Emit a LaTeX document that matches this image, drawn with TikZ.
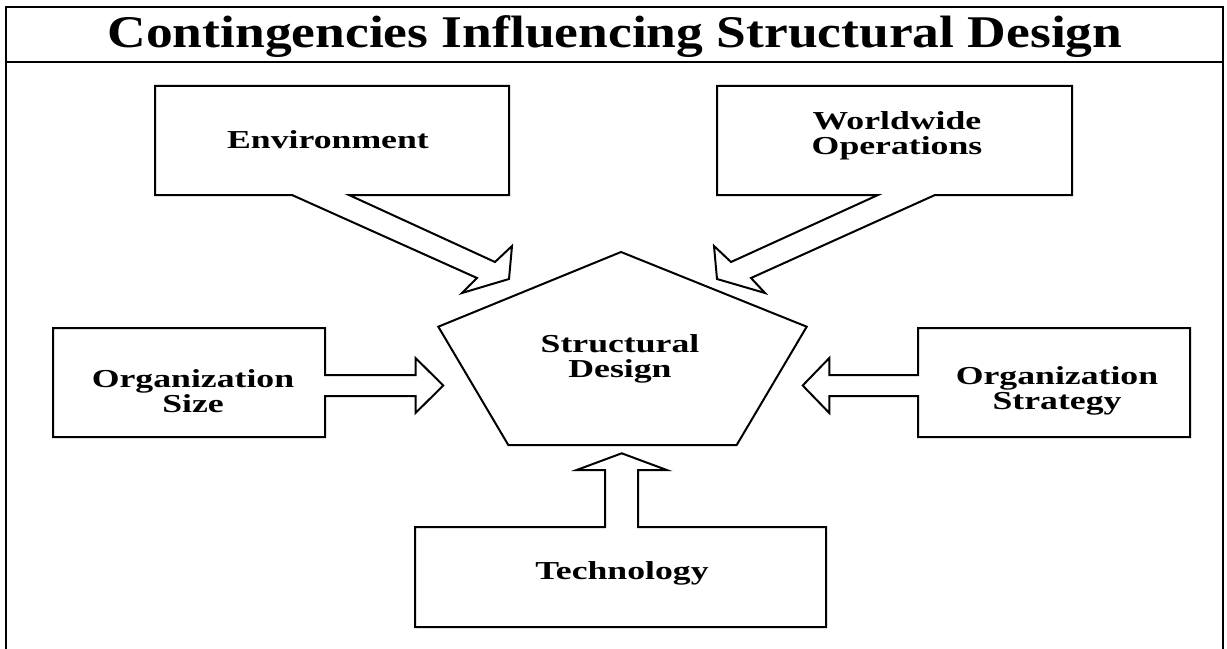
\documentclass[tikz,border=0pt]{standalone}
\usepackage{fontspec}
\newfontfamily\titlefam[FakeStretch=1.18]{Liberation Serif}
\newfontfamily\labfam[FakeStretch=1.38]{Liberation Serif}
\newcommand{\titlefont}{\titlefam\bfseries\fontsize{34}{38}\selectfont}
\newcommand{\labfont}{\labfam\bfseries\fontsize{19.4}{18.75}\selectfont}
\begin{document}
\begin{tikzpicture}[x=0.75pt,y=-0.75pt,
  outl/.style={line width=1.5pt, line join=miter, fill=white},
  frm/.style={line width=1.9pt},
  lab/.style={font=\labfont, align=center, inner sep=0pt}]
\useasboundingbox (0,0) rectangle (1227,649);
\fill[white] (0,0) rectangle (1227,649);
% frame
\draw[frm] (6,649) -- (6,7) -- (1223,7) -- (1223,649);
\draw[frm] (6,62) -- (1223,62);
\node[font=\titlefont, inner sep=0pt, anchor=base] (title) at (615,48) {Contingencies Influencing Structural Design};
% pentagon
\coordinate (pA) at (621,252);
\coordinate (pR) at (806.7,326.7);
\coordinate (pBR) at (736.7,445);
\coordinate (pBL) at (508.3,445);
\coordinate (pL) at (438.3,326.7);
\draw[outl] (pA) -- (pR) -- (pBR) -- (pBL) -- (pL) -- cycle;
\node[lab] (sd) at (620,359) {Structural\\Design};
% environment
\draw[outl] (292,195) -- (155,195) -- (155,86) -- (509,86) -- (509,195) -- (349,195)
  -- (495,262) -- (512,246) -- (509,279) -- (462,293) -- (477,278) -- cycle;
\node[lab] (env) at (328,140) {Environment};
% worldwide operations
\draw[outl] (935,195) -- (1072,195) -- (1072,86) -- (717,86) -- (717,195) -- (878,195)
  -- (731,262) -- (714,246) -- (717,279) -- (765,293) -- (751,278) -- cycle;
\node[lab] (ww) at (897,136) {Worldwide\\Operations};
% organization size
\draw[outl] (325,375) -- (325,328) -- (53,328) -- (53,437) -- (325,437) -- (325,396)
  -- (415.5,396) -- (415.5,413) -- (443.3,385.5) -- (415.5,358) -- (415.5,375) -- cycle;
\node[lab] (osz) at (193,391) {Organization\\Size};
% organization strategy
\draw[outl] (918,375) -- (918,328) -- (1190,328) -- (1190,437) -- (918,437) -- (918,396)
  -- (829.3,396) -- (829.3,413) -- (802.7,385.5) -- (829.3,358) -- (829.3,375) -- cycle;
\node[lab] (ost) at (1057,391) {Organization\\Strategy};
% technology
\draw[outl] (605,527) -- (415,527) -- (415,627) -- (826,627) -- (826,527) -- (638,527)
  -- (638,470) -- (666.7,470) -- (621.7,453.3) -- (576.7,470) -- (605,470) -- cycle;
\node[lab] (tech) at (622,573) {Technology};
\end{tikzpicture}
\end{document}
